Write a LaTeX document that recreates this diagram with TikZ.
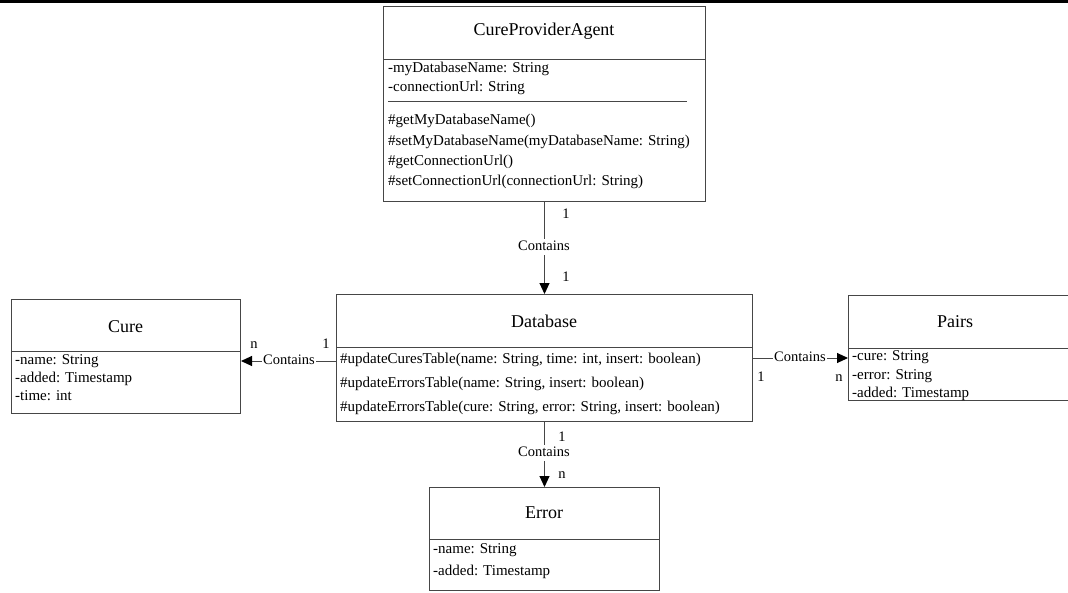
\documentclass[tikz,border=0pt]{standalone}
\usepackage{fontspec}
\setmainfont{Liberation Serif}
\usetikzlibrary{arrows.meta}
\definecolor{boxgray}{RGB}{70,70,70}
\begin{document}
\begin{tikzpicture}[x=1pt,y=-1pt,
  umlbox/.style={draw=boxgray, line width=1pt, anchor=north west, inner sep=0pt, rectangle},
  divider/.style={draw=boxgray, line width=1pt},
  title/.style={font=\fontsize{18}{20}\selectfont, inner sep=0pt},
  member/.style={font=\fontsize{15}{17}\selectfont, anchor=west, inner sep=0pt, text height=10pt, text depth=3pt},
  lbl/.style={font=\fontsize{14.5}{17}\selectfont, inner sep=1pt, text height=10pt, text depth=3pt},
  cont/.style={lbl, fill=white, inner sep=1.5pt},
  assoc/.style={draw=boxgray, line width=1pt, -{Triangle[length=11pt,width=10pt,color=black]}},
]
\useasboundingbox (0,0) rectangle (1068,592);
\clip (0,0) rectangle (1068,592);
\fill[white] (0,0) rectangle (1068,592);

% rule along the top edge
\draw[line width=2.5pt] (0,1.5) -- (1068,1.5);

% ---------- class boxes ----------
\node[umlbox, minimum width=322pt, minimum height=195pt] (cpa) at (383,6) {};
\node[umlbox, minimum width=229pt, minimum height=114pt] (cure) at (11,299) {};
\node[umlbox, minimum width=416pt, minimum height=127pt] (db) at (336,294) {};
\node[umlbox, minimum width=221pt, minimum height=105pt] (pairs) at (848,295) {};
\node[umlbox, minimum width=230pt, minimum height=103pt] (err) at (429,487) {};

% compartment dividers
\draw[divider] (383,59) -- (705,59);
\draw[divider] (11,351) -- (240,351);
\draw[divider] (336,347) -- (752,347);
\draw[divider] (848,348) -- (1069,348);
\draw[divider] (429,539) -- (659,539);

% ---------- CureProviderAgent ----------
\node[title] (cpaT) at (544,31) {CureProviderAgent};
\node[member] (cpa1) at (388,69) {-myDatabaseName: String};
\node[member] (cpa2) at (388,88) {-connectionUrl: String};
\draw[boxgray, line width=0.6pt] (388,101) -- (687,101);
\node[member] (cpa3) at (388,121) {\#getMyDatabaseName()};
\node[member] (cpa4) at (388,142) {\#setMyDatabaseName(myDatabaseName: String)};
\node[member] (cpa5) at (388,162) {\#getConnectionUrl()};
\node[member] (cpa6) at (388,182) {\#setConnectionUrl(connectionUrl: String)};

% ---------- Cure ----------
\node[title] (cureT) at (125.5,327) {Cure};
\node[member] (cure1) at (15,361) {-name: String};
\node[member] (cure2) at (15,379) {-added: Timestamp};
\node[member] (cure3) at (15,397) {-time: int};

% ---------- Database ----------
\node[title] (dbT) at (544,321) {Database};
\node[member] (db1) at (340,360) {\#updateCuresTable(name: String, time: int, insert: boolean)};
\node[member] (db2) at (340,384) {\#updateErrorsTable(name: String, insert: boolean)};
\node[member] (db3) at (340,408) {\#updateErrorsTable(cure: String, error: String, insert: boolean)};

% ---------- Pairs ----------
\node[title] (pairsT) at (955,322) {Pairs};
\node[member] (pairs1) at (852,357) {-cure: String};
\node[member] (pairs2) at (852,376) {-error: String};
\node[member] (pairs3) at (852,394) {-added: Timestamp};

% ---------- Error ----------
\node[title] (errT) at (544,513) {Error};
\node[member] (err1) at (433,550) {-name: String};
\node[member] (err2) at (433,572) {-added: Timestamp};

% ---------- associations ----------
\coordinate (yCure) at (0,361);
\coordinate (yPairs) at (0,358);

\draw[assoc] (cpa.south) -- (db.north);
\node[cont] (c1) at (544,247) {Contains};
\node[lbl] (m1a) at (566,215) {1};
\node[lbl] (m1b) at (566,278) {1};

\draw[assoc] (db.west |- yCure) -- (cure.east |- yCure);
\node[cont] (c2) at (289,361) {Contains};
\node[lbl] (m2a) at (254,345) {n};
\node[lbl] (m2b) at (326,345) {1};

\draw[assoc] (db.east |- yPairs) -- (pairs.west |- yPairs);
\node[cont] (c3) at (800,358) {Contains};
\node[lbl] (m3a) at (761,378) {1};
\node[lbl] (m3b) at (839,378) {n};

\draw[assoc] (db.south) -- (err.north);
\node[cont] (c4) at (544,453) {Contains};
\node[lbl] (m4a) at (562,438) {1};
\node[lbl] (m4b) at (562,475) {n};
\end{tikzpicture}
\end{document}
